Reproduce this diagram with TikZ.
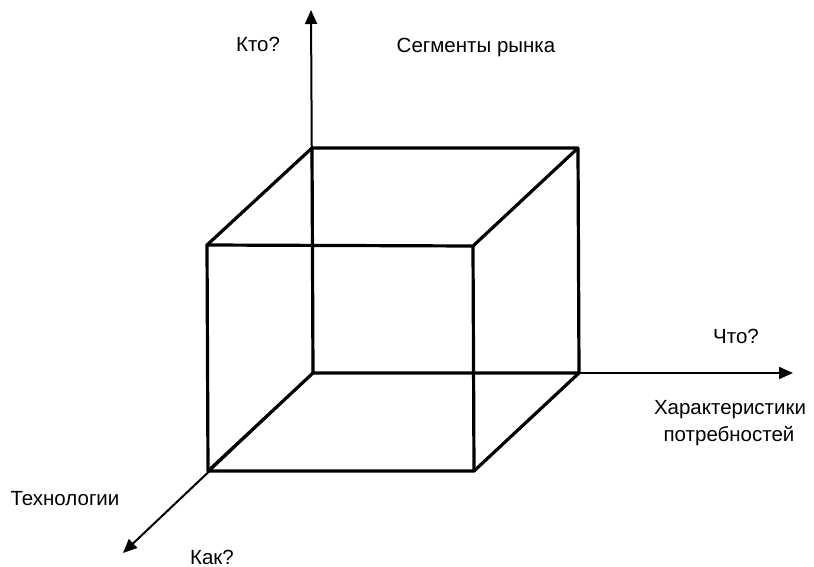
\documentclass[tikz,border=0pt]{standalone}
\usepackage{fontspec}
\setmainfont{Liberation Sans}
\usetikzlibrary{arrows.meta}
\begin{document}
\begin{tikzpicture}[x=1pt,y=-1pt,
  edge/.style={line width=3.2pt,line join=round,line cap=round},
  axis/.style={line width=2pt,-{Triangle[length=14pt,width=12pt]}},
  lbl/.style={font=\fontsize{20.5}{25}\selectfont,inner sep=0pt,align=center}]
\useasboundingbox (0,0) rectangle (814,567);
% back face corners
\coordinate (btl) at (312,148);
\coordinate (btr) at (578,148);
\coordinate (bbl) at (313,373);
\coordinate (bbr) at (579,373);
% front face corners
\coordinate (ftl) at (207,245);
\coordinate (ftr) at (473,246);
\coordinate (fbl) at (208,471);
\coordinate (fbr) at (474,471);
% axis ends
\coordinate (ytip) at (311,10);
\coordinate (xtip) at (793,373);
\coordinate (ztip) at (123,553);
% axes
\draw[axis] (bbl) -- (ytip);
\draw[axis] (bbl) -- (xtip);
\draw[axis] (bbl) -- (ztip);
% cube
\draw[edge] (btl) -- (btr) -- (bbr) -- (bbl) -- cycle;
\draw[edge] (ftl) -- (ftr) -- (fbr) -- (fbl) -- cycle;
\draw[edge] (ftl) -- (btl);
\draw[edge] (ftr) -- (btr);
\draw[edge] (fbr) -- (bbr);
\draw[edge] (fbl) -- (bbl);
% labels
\node[lbl] (kto) at (258,44) {Кто?};
\node[lbl] (seg) at (476,47) {Сегменты рынка};
\node[lbl] (chto) at (736,336) {Что?};
\node[lbl] (har) at (730,410) {Характеристики};
\node[lbl] (potr) at (729,436) {потребностей};
\node[lbl] (teh) at (65,499) {Технологии};
\node[lbl] (kak) at (212,557) {Как?};
\end{tikzpicture}
\end{document}
